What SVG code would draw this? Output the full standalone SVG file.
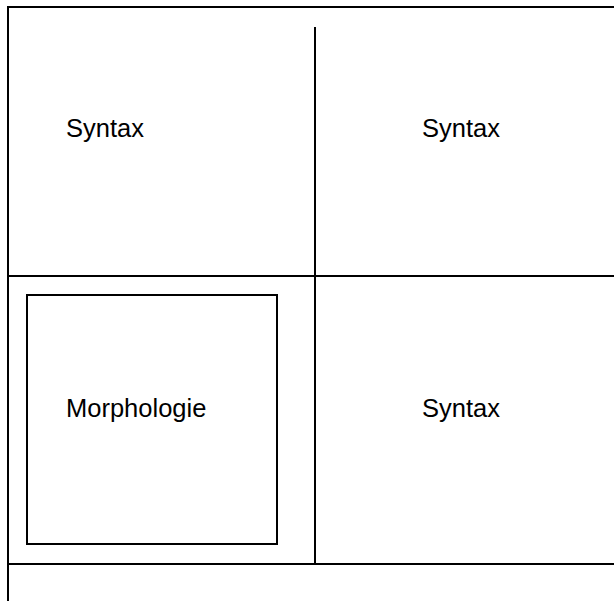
<svg xmlns="http://www.w3.org/2000/svg" width="614" height="601" viewBox="0 0 614 601">
  <style>
    .ln { stroke: #000; stroke-width: 2; fill: none; }
    .lbl { font-family: "Liberation Sans", Arial, sans-serif; font-size: 25.5px; fill: #000; }
  </style>
  <rect width="614" height="601" fill="#fff"/>
  <g id="connectors">
    <rect class="ln" x="8" y="7" width="620" height="610"/>
    <line class="ln" x1="8" y1="276" x2="614" y2="276"/>
    <line class="ln" x1="8" y1="564" x2="614" y2="564"/>
    <line class="ln" x1="315" y1="27" x2="315" y2="564"/>
  </g>
  <g id="syntax-top-left">
    <text class="lbl" x="66" y="137">Syntax</text>
  </g>
  <g id="syntax-top-right">
    <text class="lbl" x="422" y="137">Syntax</text>
  </g>
  <g id="morphologie">
    <rect class="ln" x="27" y="295" width="250" height="249"/>
    <text class="lbl" x="66" y="417">Morphologie</text>
  </g>
  <g id="syntax-bottom-right">
    <text class="lbl" x="422" y="417">Syntax</text>
  </g>
</svg>
